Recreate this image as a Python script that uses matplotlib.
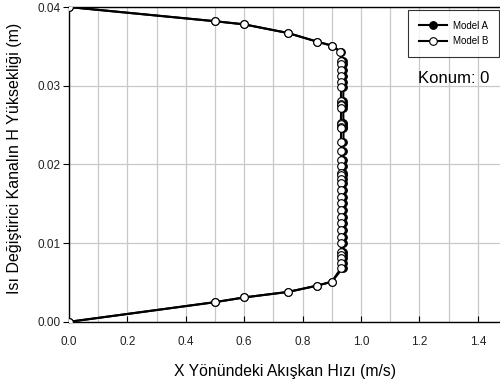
import numpy as np
import matplotlib.pyplot as plt
from matplotlib.ticker import MultipleLocator, FormatStrFormatter

plt.rcParams['font.family'] = ['Liberation Sans', 'DejaVu Sans']

# hız profili: kanal yüksekliği boyunca noktalar (m)
y_vals = [0.0400, 0.0382, 0.0378, 0.0367, 0.0356, 0.0351, 0.0343,
          0.0332, 0.0328, 0.0320, 0.0313, 0.0305, 0.0299, 0.0281, 0.0277,
          0.0276, 0.0272, 0.0253, 0.0251, 0.0248, 0.0246, 0.0228, 0.0217,
          0.0206, 0.0198, 0.0189, 0.0186, 0.0182, 0.0177, 0.0167, 0.0158,
          0.0151, 0.0142, 0.0133, 0.0125, 0.0117, 0.0108, 0.0100, 0.0089,
          0.0085, 0.0081, 0.0075, 0.0068,
          0.0051, 0.0046, 0.0038, 0.0031, 0.0025, 0.0000]

# Model B hızları (m/s)
u_model_b = [0.0, 0.50, 0.60, 0.75, 0.85, 0.90, 0.929,
             0.932, 0.932, 0.933, 0.932, 0.933, 0.932, 0.931, 0.932,
             0.933, 0.932, 0.931, 0.932, 0.933, 0.932, 0.931, 0.932,
             0.932, 0.933, 0.932, 0.932, 0.933, 0.932, 0.931, 0.932,
             0.932, 0.932, 0.933, 0.932, 0.932, 0.933, 0.932, 0.931,
             0.932, 0.933, 0.932, 0.931,
             0.90, 0.85, 0.75, 0.60, 0.50, 0.0]

# Model A hızları (m/s)
u_model_a = [0.0, 0.50, 0.60, 0.75, 0.85, 0.90, 0.932,
             0.939, 0.940, 0.940, 0.939, 0.940, 0.940, 0.939, 0.940,
             0.940, 0.939, 0.940, 0.940, 0.939, 0.940, 0.940, 0.939,
             0.940, 0.940, 0.939, 0.940, 0.940, 0.939, 0.940, 0.940,
             0.939, 0.940, 0.940, 0.939, 0.940, 0.940, 0.939, 0.940,
             0.940, 0.939, 0.940, 0.937,
             0.90, 0.85, 0.75, 0.60, 0.50, 0.0]

fig = plt.figure(figsize=(5, 3.92), dpi=100)
ax = fig.add_axes([0.138, 0.179, 0.862, 0.803])

ax.plot(u_model_a, y_vals, c='k', lw=1.5, marker='o', ms=5.5,
        mfc='k', mec='k', mew=0.8, label='Model A', zorder=3)
ax.plot(u_model_b, y_vals, c='k', lw=1.5, marker='o', ms=5.5,
        mfc='white', mec='k', mew=0.8, label='Model B', zorder=4)

ax.set_xlim(0, 1.476)
ax.set_ylim(0, 0.04)
ax.xaxis.set_major_locator(MultipleLocator(0.2))
ax.xaxis.set_minor_locator(MultipleLocator(0.1))
ax.yaxis.set_major_locator(MultipleLocator(0.01))
ax.xaxis.set_major_formatter(FormatStrFormatter('%.1f'))
ax.yaxis.set_major_formatter(FormatStrFormatter('%.2f'))
ax.grid(True, which='both', axis='x', color='#c8c8c8', lw=0.9)
ax.grid(True, which='major', axis='y', color='#c8c8c8', lw=0.9)
ax.set_axisbelow(True)

ax.tick_params(axis='x', which='major', direction='in', length=4,
               labelsize=8.5, pad=10, labelcolor='#222222')
ax.tick_params(axis='x', which='minor', length=0)
ax.tick_params(axis='y', direction='out', length=4, labelsize=8.5,
               pad=2, labelcolor='#222222')
ax.spines['right'].set_visible(False)
for s in ['left', 'bottom', 'top']:
    ax.spines[s].set_linewidth(1.0)

ax.set_xlabel('X Yönündeki Akışkan Hızı (m/s)', fontsize=11.3, labelpad=12)
ax.set_ylabel('Isı Değiştirici Kanalın H Yüksekliği (m)', fontsize=11.5)
ax.yaxis.set_label_coords(-0.108, 0.52)

leg = ax.legend(loc='upper right', bbox_to_anchor=(0.998, 0.99),
                fontsize=7, frameon=True, fancybox=False, edgecolor='k',
                handlelength=2.9, handletextpad=0.6, borderpad=1.1,
                labelspacing=0.55, borderaxespad=0)
leg.get_frame().set_linewidth(0.8)

ax.text(0.975, 0.759, 'Konum: 0', transform=ax.transAxes, ha='right',
        va='baseline', fontsize=12)

plt.savefig('out.png', dpi=100)
plt.close()
